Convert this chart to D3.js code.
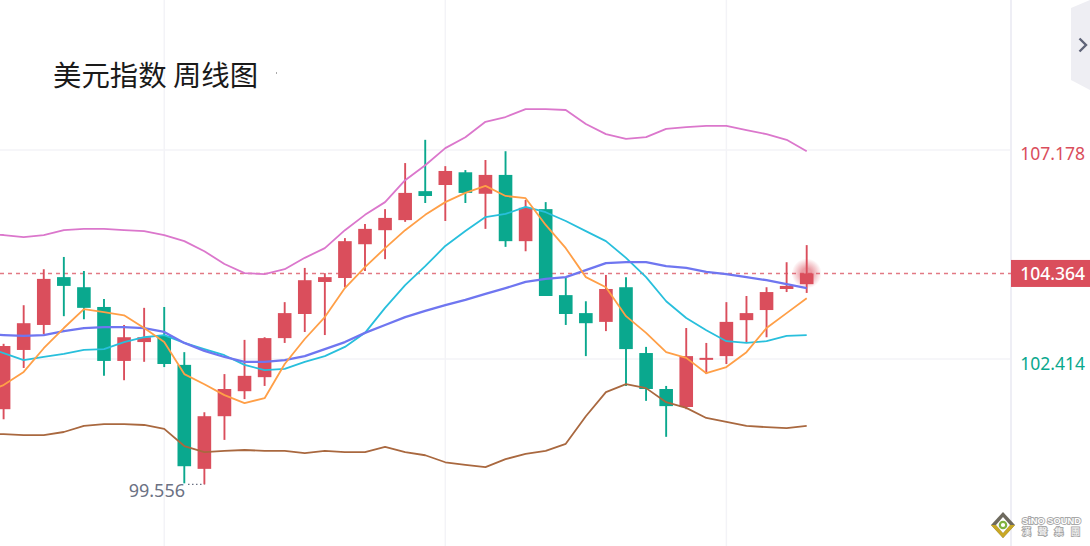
<!DOCTYPE html>
<html>
<head>
<meta charset="utf-8">
<script src="https://cdn.jsdelivr.net/npm/d3@7"></script>
<style>
  html, body { margin: 0; padding: 0; background: #fff; overflow: hidden; }
  svg { display: block; }
</style>
</head>
<body>
<svg id="chart" width="1090" height="546"></svg>
<script>
// weekly candles, left to right
const opens = [101.27,102.62,103.19,104.28,104.05,103.60,102.37,102.80,102.94,102.28,99.91,101.11,101.68,102.00,102.89,103.44,104.17,104.26,105.03,105.35,105.58,106.24,106.38,106.67,106.18,106.61,105.10,105.83,103.87,103.46,103.26,104.05,102.55,101.73,101.32,102.41,102.48,103.30,103.53,104.01,104.12];
const highs = [102.76,103.64,104.46,104.74,104.42,103.78,103.19,103.58,103.60,102.57,101.20,102.07,102.85,102.91,103.71,104.49,104.37,105.17,105.49,105.83,106.88,107.41,106.81,106.72,106.95,107.15,106.04,105.99,104.26,103.73,104.33,104.28,102.69,101.80,103.12,102.78,103.71,103.85,104.05,104.62,105.01];
const lows = [101.04,102.21,102.98,103.39,103.32,102.03,101.93,102.35,102.23,99.58,99.556,100.57,101.50,101.80,102.78,103.03,102.96,104.05,104.42,104.69,105.54,105.97,105.56,105.97,105.38,104.97,104.87,103.85,103.19,102.48,103.05,101.80,101.46,100.64,101.27,102.07,102.30,102.78,102.91,103.94,103.92];
const closes = [102.71,103.23,104.24,104.08,103.58,102.37,102.91,102.91,102.30,99.97,101.11,101.73,102.03,102.89,103.46,104.21,104.28,105.10,105.38,105.63,106.20,106.13,106.70,106.20,106.61,105.10,105.86,103.85,103.44,103.23,104.01,102.64,101.73,101.34,102.48,102.44,103.26,103.46,103.94,104.08,104.364];

// indicator lines start one week before the first visible candle
const ma5 = [101.64,101.82,102.12,102.66,103.12,103.55,103.48,103.41,103.12,102.80,102.07,101.84,101.59,101.41,101.52,102.30,102.87,103.37,104.03,104.51,104.94,105.35,105.70,105.99,106.20,106.36,106.13,106.08,105.47,104.94,104.28,104.05,103.39,103.01,102.57,102.44,102.09,102.23,102.57,103.12,103.46,103.80];
const ma10 = [102.69,102.55,102.39,102.46,102.53,102.62,102.64,102.80,102.91,102.96,102.78,102.64,102.50,102.28,102.16,102.19,102.35,102.48,102.69,103.01,103.58,104.10,104.53,104.99,105.33,105.65,105.72,105.88,105.76,105.56,105.33,105.10,104.72,104.28,103.73,103.35,103.07,102.82,102.78,102.82,102.94,102.96];
const bollMid = [102.98,102.96,102.94,102.96,103.05,103.12,103.14,103.14,103.12,103.03,102.78,102.60,102.46,102.35,102.35,102.39,102.48,102.64,102.80,103.01,103.19,103.37,103.51,103.64,103.76,103.90,104.03,104.17,104.24,104.28,104.44,104.60,104.62,104.62,104.53,104.49,104.40,104.35,104.28,104.21,104.12,104.03];
const bollUpper = [105.26,105.24,105.19,105.24,105.35,105.38,105.38,105.35,105.33,105.24,105.10,104.87,104.58,104.37,104.35,104.46,104.72,104.94,105.35,105.70,105.99,106.49,106.83,107.22,107.47,107.82,107.93,108.11,108.11,108.09,107.77,107.54,107.43,107.47,107.66,107.70,107.73,107.73,107.63,107.54,107.41,107.15];
const bollLower = [100.70,100.70,100.68,100.68,100.75,100.89,100.93,100.93,100.91,100.82,100.43,100.29,100.32,100.34,100.32,100.32,100.27,100.32,100.29,100.29,100.41,100.29,100.22,100.06,100.00,99.95,100.13,100.25,100.32,100.48,101.11,101.66,101.84,101.75,101.43,101.30,101.07,100.98,100.89,100.86,100.84,100.89];

const priceTicks = [107.178, 102.414];
const lastPrice = 104.364;
const lowPrice = 99.556;
const gridWeeks = [8, 22, 36];

const red = "#da4e5c", green = "#0aa88e";
const fontLatin = "'Noto Sans', sans-serif";

const svg = d3.select("#chart");
const axisX = 1011;

const x = d3.scaleLinear().domain([0, 40]).range([3.6, 806.7]);
const y = d3.scaleLinear().domain([107.178, 102.414]).range([150, 359]);

// grid
svg.append("g").selectAll("line").data(priceTicks).enter().append("line")
  .attr("x1", 0).attr("x2", axisX)
  .attr("y1", d => y(d)).attr("y2", d => y(d))
  .attr("stroke", "#f3f3f7").attr("stroke-width", 1.5);
svg.append("g").selectAll("line").data(gridWeeks).enter().append("line")
  .attr("x1", d => x(d)).attr("x2", d => x(d))
  .attr("y1", 0).attr("y2", 546)
  .attr("stroke", "#f3f3f7").attr("stroke-width", 1.5);
svg.append("line")
  .attr("x1", axisX).attr("x2", axisX).attr("y1", 0).attr("y2", 546)
  .attr("stroke", "#eeeef5").attr("stroke-width", 2);

// last price dashed line
svg.append("line")
  .attr("x1", 0).attr("x2", axisX)
  .attr("y1", y(lastPrice)).attr("y2", y(lastPrice))
  .attr("stroke", "#e27984").attr("stroke-width", 1.4)
  .attr("stroke-dasharray", "4,4");

// glow behind last candle
const defs = svg.append("defs");
const glow = defs.append("radialGradient").attr("id", "glow");
glow.append("stop").attr("offset", "35%").attr("stop-color", red).attr("stop-opacity", 0.55);
glow.append("stop").attr("offset", "100%").attr("stop-color", red).attr("stop-opacity", 0);
svg.append("circle")
  .attr("cx", x(40)).attr("cy", y(lastPrice))
  .attr("r", 15).attr("fill", "url(#glow)");

// candles
const candles = svg.append("g").selectAll("g").data(closes).enter().append("g");
const colorOf = i => closes[i] >= opens[i] ? red : green;
candles.append("line")
  .attr("x1", (d, i) => x(i)).attr("x2", (d, i) => x(i))
  .attr("y1", (d, i) => y(highs[i])).attr("y2", (d, i) => y(lows[i]))
  .attr("stroke", (d, i) => colorOf(i)).attr("stroke-width", 1.9);
candles.append("rect")
  .attr("x", (d, i) => x(i) - 6.8).attr("width", 13.6)
  .attr("y", (d, i) => y(Math.max(opens[i], closes[i])))
  .attr("height", (d, i) => Math.max(2, Math.abs(y(opens[i]) - y(closes[i]))))
  .attr("fill", (d, i) => colorOf(i));

// indicator lines
const line = d3.line().x((d, i) => x(i - 1)).y(d => y(d));
const series = [
  [bollLower, "#a9683f", 1.8],
  [bollUpper, "#db77cc", 1.8],
  [ma10, "#28bfdc", 1.8],
  [bollMid, "#6f76f0", 2.3],
  [ma5, "#ff9f47", 1.8]
];
svg.append("g").selectAll("path").data(series).enter().append("path")
  .attr("d", d => line(d[0]))
  .attr("fill", "none")
  .attr("stroke", d => d[1])
  .attr("stroke-width", d => d[2])
  .attr("stroke-linejoin", "round");

// low price marker
svg.append("line")
  .attr("x1", 188).attr("x2", x(10))
  .attr("y1", y(lowPrice)).attr("y2", y(lowPrice))
  .attr("stroke", "#6b7183").attr("stroke-width", 1.2)
  .attr("stroke-dasharray", "1.5,2.5");
svg.append("text")
  .attr("x", 185).attr("y", y(lowPrice) + 13)
  .attr("text-anchor", "end")
  .attr("font-family", fontLatin).attr("font-size", 18)
  .attr("fill", "#6b7183")
  .text(d3.format(".3f")(lowPrice));

// price axis
const axis = d3.axisRight(y).tickValues(priceTicks).tickSize(0).tickFormat(d3.format(".3f"));
const axisG = svg.append("g").attr("transform", "translate(1085,0)").call(axis);
axisG.select(".domain").remove();
axisG.selectAll("text")
  .attr("x", 0).attr("text-anchor", "end")
  .attr("font-family", fontLatin).attr("font-size", 17.5)
  .attr("fill", d => d > lastPrice ? red : green)
  .attr("dy", d => d > lastPrice ? "0.55em" : "0.6em");

svg.append("rect")
  .attr("x", axisX).attr("width", 79)
  .attr("y", y(lastPrice) - 13.5).attr("height", 27)
  .attr("fill", red);
svg.append("text")
  .attr("x", 1085).attr("y", y(lastPrice) + 7)
  .attr("text-anchor", "end")
  .attr("font-family", fontLatin).attr("font-size", 17.5).attr("font-weight", 500)
  .attr("fill", "#fff")
  .text(d3.format(".3f")(lastPrice));

// title
svg.append("text")
  .attr("x", 53).attr("y", 86)
  .attr("font-family", "'Noto Sans CJK SC'").attr("font-size", 28.4)
  .attr("fill", "#1a1a1a")
  .text("美元指数 周线图");

// side tab
svg.append("path")
  .attr("d", "M1071,8L1090,0V90L1071,80Z")
  .attr("fill", "#eeeef3");
svg.append("path")
  .attr("d", "M1079.5,38.5L1086,45L1079.5,51.5")
  .attr("fill", "none").attr("stroke", "#5f6478").attr("stroke-width", 2.4);

// watermark
const logo = svg.append("g").attr("transform", "translate(1003,525)");
logo.append("path").attr("d", "M0,-13L12,0L0,13L-12,0Z").attr("fill", "#6e6a5e");
logo.append("path").attr("d", "M-12,0L0,13L12,0L7,0L0,8L-7,0Z").attr("fill", "#c9a825");
logo.append("path").attr("d", "M0,-8L7,0L0,8L-7,0Z").attr("fill", "#fff");
logo.append("circle").attr("r", 3.2).attr("fill", "none").attr("stroke", "#7fb23e").attr("stroke-width", 2.2);

svg.append("text")
  .attr("x", 1022).attr("y", 524)
  .attr("font-family", "'Liberation Sans'").attr("font-size", 9.3).attr("font-weight", 700)
  .attr("fill", "#fff").attr("stroke", "#a8a8a8").attr("stroke-width", 1.8)
  .attr("paint-order", "stroke")
  .text("SiNO SOUND");
svg.append("text")
  .attr("x", 1022).attr("y", 535)
  .attr("font-family", "'Noto Sans CJK TC'").attr("font-size", 9)
  .attr("fill", "#fff").attr("stroke", "#a8a8a8").attr("stroke-width", 1.8)
  .attr("paint-order", "stroke")
  .attr("letter-spacing", 7.3)
  .text("漢聲集團");

// stray dot next to the title
svg.append("rect").attr("x", 276).attr("y", 72).attr("width", 1).attr("height", 2).attr("fill", "#aaa");
</script>
</body>
</html>
